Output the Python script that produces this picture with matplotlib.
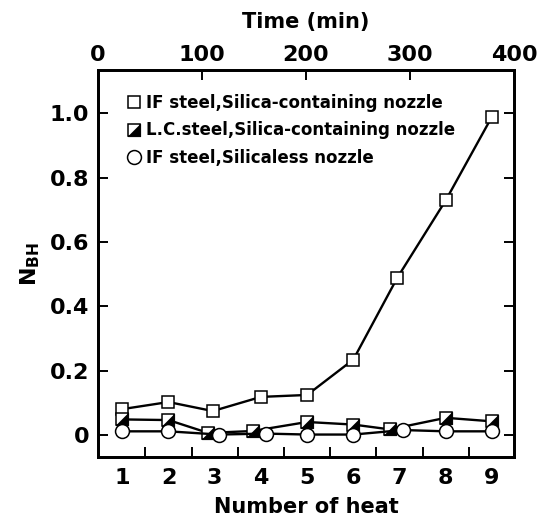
import matplotlib
matplotlib.use("Agg")
import matplotlib.pyplot as plt
from matplotlib.lines import Line2D

# Data
heats = [1, 2, 3, 4, 5, 6, 7, 8, 9]
if_silica_x = [1, 2, 2.96, 4.0, 5, 6, 6.95, 8, 9]
if_silica = [0.081, 0.103, 0.075, 0.119, 0.125, 0.235, 0.489, 0.73, 0.99]
lc_silica_x = [1, 2, 2.86, 3.82, 5, 6, 6.79, 8, 9]
lc_silica = [0.049, 0.047, 0.007, 0.013, 0.041, 0.033, 0.018, 0.054, 0.043]
if_silicaless_x = [1, 2, 3.09, 4.1, 5, 6, 7.08, 8, 9]
if_silicaless = [0.012, 0.012, 0.002, 0.005, 0.002, 0.002, 0.016, 0.012, 0.012]

labels = ["IF steel,Silica-containing nozzle",
          "L.C.steel,Silica-containing nozzle",
          "IF steel,Silicaless nozzle"]
y_ticks = [0, 0.2, 0.4, 0.6, 0.8, 1.0]
y_ticklabels = ["0", "0.2", "0.4", "0.6", "0.8", "1.0"]
time_ticks = [0, 100, 200, 300, 400]

plt.rcParams['font.family'] = ['DejaVu Sans']
plt.rcParams['font.weight'] = 'bold'
plt.rcParams['axes.labelweight'] = 'bold'

fig = plt.figure(figsize=(5.43, 5.20), dpi=100)
ax = fig.add_axes([0.180, 0.121, 0.767, 0.744])

# lower-right triangle for the half-filled square
tri = [(-1, -1), (1, -1), (1, 1), (-1, -1)]

ms_sq = 9
ms_circ = 10
lw = 1.7

ax.plot(if_silica_x, if_silica, color='black', lw=lw, marker='s',
        ms=ms_sq, mfc='white', mec='black', mew=1.1, zorder=3)
ax.plot(lc_silica_x, lc_silica, color='black', lw=lw, marker='s',
        ms=ms_sq, mfc='white', mec='black', mew=1.1, zorder=3)
ax.plot(lc_silica_x, lc_silica, ls='none', marker=tri,
        ms=ms_sq, mfc='black', mec='black', mew=0.5, zorder=4)
ax.plot(if_silicaless_x, if_silicaless, color='black', lw=lw, marker='o',
        ms=ms_circ, mfc='white', mec='black', mew=1.1, zorder=5)

h1 = Line2D([], [], ls='none', marker='s', ms=ms_sq, mfc='white', mec='black', mew=1.1)
h2a = Line2D([], [], ls='none', marker='s', ms=ms_sq, mfc='white', mec='black', mew=1.1)
h2b = Line2D([], [], ls='none', marker=tri, ms=ms_sq, mfc='black', mec='black', mew=0.5)
h3 = Line2D([], [], ls='none', marker='o', ms=ms_circ, mfc='white', mec='black', mew=1.1)
ax.legend([h1, (h2a, h2b), h3], labels, loc='upper left',
          bbox_to_anchor=(0.055, 0.955), frameon=False,
          prop={'size': 12, 'weight': 'bold'},
          handlelength=0.8, handletextpad=0.35, labelspacing=0.55,
          borderaxespad=0)

ax.set_xlim(0.47, 9.48)
ax.set_ylim(-0.068, 1.134)

# bottom: labels at integers, tick marks at half-integers
ax.set_xticks(heats)
ax.set_xticklabels([str(h) for h in heats])
ax.set_xticks([h + 0.5 for h in heats[:-1]], minor=True)
ax.tick_params(axis='x', which='major', length=0, pad=8, labelsize=16)
ax.tick_params(axis='x', which='minor', direction='in', length=7, width=1.4)

ax.set_yticks(y_ticks)
ax.set_yticklabels(y_ticklabels)
ax.tick_params(axis='y', which='major', direction='in', length=7, width=1.4,
               right=True, labelsize=16, pad=6)

# top axis in time
top = ax.twiny()
top.set_xlim(0, 400)
top.set_xticks(time_ticks)
top.tick_params(axis='x', direction='in', length=7, width=1.4, labelsize=16, pad=4)
top.set_xlabel("Time (min)", fontsize=15, fontweight='bold', labelpad=12)

ax.set_xlabel("Number of heat", fontsize=15, fontweight='bold', labelpad=6)
ax.set_ylabel(r"N$_{\mathregular{BH}}$", fontsize=16, fontweight='bold', labelpad=6)

for a in (ax, top):
    for s in a.spines.values():
        s.set_linewidth(2.0)

fig.savefig("out.png", dpi=100)
